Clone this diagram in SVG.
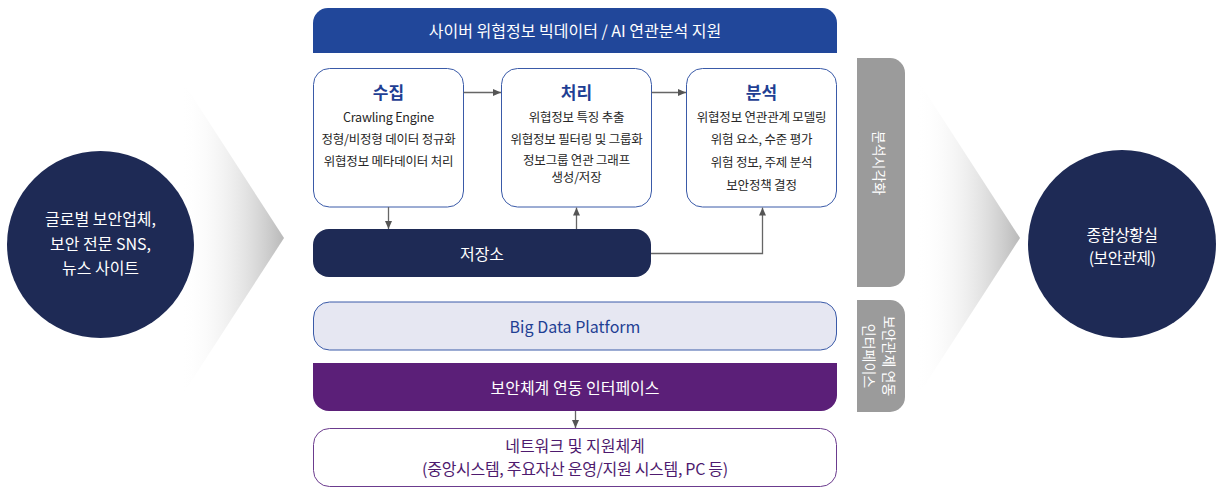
<svg xmlns="http://www.w3.org/2000/svg" width="1223" height="498" viewBox="0 0 1223 498">
<defs>
<style>
text{font-family:"Noto Sans CJK KR","Noto Sans",sans-serif;text-anchor:middle;dominant-baseline:central}
.w16{fill:#fff;font-size:16px}
.box{fill:#fff;stroke:#3a5aa8;stroke-width:1}
.ttl{fill:#1f3f94;font-size:17px;font-weight:bold}
.body{fill:#262626;font-size:12.5px;letter-spacing:-0.2px}
.navy{fill:#1e2a55}
.gray{fill:#9b9b9b}
.conn{fill:none;stroke:#666;stroke-width:1.3}
.side{fill:#fff;font-size:14px}
</style>
<linearGradient id="chevL" gradientUnits="userSpaceOnUse" x1="180" y1="0" x2="284" y2="0">
<stop offset="0" stop-color="#ffffff" stop-opacity="0"/>
<stop offset="1" stop-color="#b9b9b9"/>
</linearGradient>
<linearGradient id="chevR" gradientUnits="userSpaceOnUse" x1="916" y1="0" x2="1020" y2="0">
<stop offset="0" stop-color="#ffffff" stop-opacity="0"/>
<stop offset="1" stop-color="#b9b9b9"/>
</linearGradient>
<marker id="arr" viewBox="0 0 8 8" refX="8" refY="4" markerWidth="8" markerHeight="8" markerUnits="userSpaceOnUse" orient="auto">
<path d="M0,0.5 L8,4 L0,7.5 Z" fill="#555"/>
</marker>
</defs>

<g id="chevron-left"><polygon points="150,31 284,238 150,445" fill="url(#chevL)"/></g>
<g id="chevron-right"><polygon points="886,31 1020,238 886,445" fill="url(#chevR)"/></g>

<g id="source">
<circle class="navy" cx="100.5" cy="244.5" r="93.5"/>
<text class="w16" x="100.5" y="218">글로벌 보안업체,</text>
<text class="w16" x="100.5" y="242.5">보안 전문 SNS,</text>
<text class="w16" x="100.5" y="267">뉴스 사이트</text>
</g>

<g id="control-room">
<circle class="navy" cx="1122" cy="244" r="94"/>
<text class="w16" x="1122" y="234" letter-spacing="-0.5">종합상황실</text>
<text class="w16" x="1122" y="257" letter-spacing="-0.5">(보안관제)</text>
</g>

<g id="banner">
<path d="M313,53 V23 A15,15 0 0 1 328,8 H822 A15,15 0 0 1 837,23 V53 Z" fill="#21479a"/>
<text class="w16" x="575" y="30">사이버 위협정보 빅데이터 / AI 연관분석 지원</text>
</g>

<g id="collect">
<rect class="box" x="313.5" y="68.5" width="150" height="138.5" rx="16"/>
<text class="ttl" x="388.5" y="91">수집</text>
<text class="body" x="388.5" y="116.5">Crawling Engine</text>
<text class="body" x="388.5" y="138.5">정형/비정형 데이터 정규화</text>
<text class="body" x="388.5" y="160">위협정보 메타데이터 처리</text>
</g>

<g id="process">
<rect class="box" x="501.5" y="68.5" width="150" height="138.5" rx="16"/>
<text class="ttl" x="576.5" y="91">처리</text>
<text class="body" x="576.5" y="116.5">위협정보 특징 추출</text>
<text class="body" x="576.5" y="138.5">위협정보 필터링 및 그룹화</text>
<text class="body" x="576.5" y="159">정보그룹 연관 그래프</text>
<text class="body" x="576.5" y="176">생성/저장</text>
</g>

<g id="analyze">
<rect class="box" x="686.5" y="68.5" width="150" height="138.5" rx="16"/>
<text class="ttl" x="761.5" y="91">분석</text>
<text class="body" x="761.5" y="116.5">위협정보 연관관계 모델링</text>
<text class="body" x="761.5" y="138.5">위험 요소, 수준 평가</text>
<text class="body" x="761.5" y="161">위험 정보, 주제 분석</text>
<text class="body" x="761.5" y="184">보안정책 결정</text>
</g>

<g id="storage">
<rect class="navy" x="313" y="229" width="338" height="48" rx="16"/>
<text class="w16" x="482" y="253">저장소</text>
</g>

<g id="bigdata">
<rect x="313.5" y="302" width="523" height="48" rx="16" fill="#e6e7f2" stroke="#3a5aa8" stroke-width="1"/>
<text x="575" y="326" fill="#1f3f94" font-size="16px">Big Data Platform</text>
</g>

<g id="interface">
<path d="M313,363 H837 V395 A16,16 0 0 1 821,411 H329 A16,16 0 0 1 313,395 Z" fill="#5b1f78"/>
<text class="w16" x="575" y="387">보안체계 연동 인터페이스</text>
</g>

<g id="network">
<rect x="313.5" y="428.5" width="523" height="58" rx="16" fill="#fff" stroke="#6b3b8e" stroke-width="1"/>
<text x="575" y="445" fill="#4e1a6e" font-size="16px">네트워크 및 지원체계</text>
<text x="575" y="468" fill="#4e1a6e" font-size="16px" letter-spacing="-0.3">(중앙시스템, 주요자산 운영/지원 시스템, PC 등)</text>
</g>

<g id="visualization">
<path d="M857,58 H890 A15,15 0 0 1 905,73 V272 A15,15 0 0 1 890,287 H857 Z" class="gray"/>
<text class="side" transform="translate(880,163) rotate(90)" x="0" y="0">분석시각화</text>
</g>

<g id="control-interface">
<path d="M857,300 H890 A15,15 0 0 1 905,315 V397 A15,15 0 0 1 890,412 H857 Z" class="gray"/>
<text class="side" transform="translate(880,356) rotate(90)" x="0" y="-10">보안관제 연동</text>
<text class="side" transform="translate(880,356) rotate(90)" x="0" y="10">인터페이스</text>
</g>

<g id="connectors">
<line class="conn" x1="463.5" y1="92.5" x2="501" y2="92.5" marker-end="url(#arr)"/>
<line class="conn" x1="651.5" y1="92.5" x2="686" y2="92.5" marker-end="url(#arr)"/>
<line class="conn" x1="388.5" y1="207" x2="388.5" y2="229" marker-end="url(#arr)"/>
<line class="conn" x1="576.5" y1="229" x2="576.5" y2="207.5" marker-end="url(#arr)"/>
<polyline class="conn" points="651,253.5 762.5,253.5 762.5,207.5" marker-end="url(#arr)"/>
<line class="conn" x1="575.5" y1="411" x2="575.5" y2="428" marker-end="url(#arr)"/>
</g>
</svg>
